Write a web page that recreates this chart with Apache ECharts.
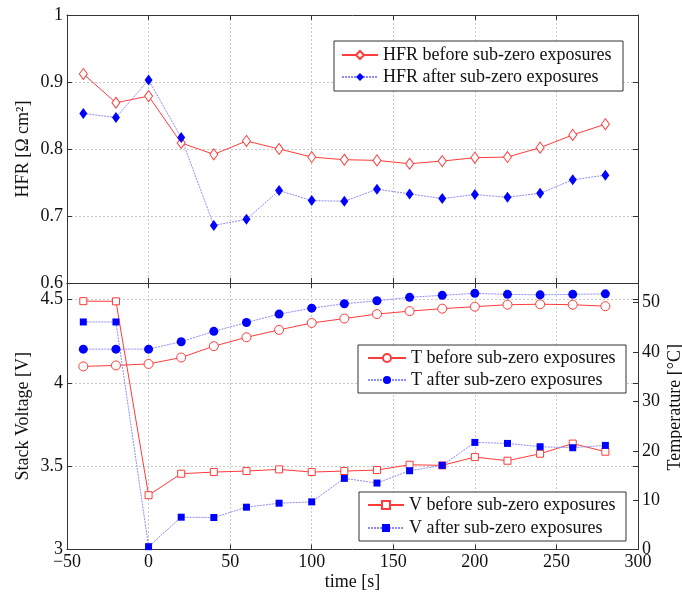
<!DOCTYPE html>
<html>
<head>
<meta charset="utf-8">
<script src="https://cdn.jsdelivr.net/npm/echarts@6/dist/echarts.min.js"></script>
<style>
html,body{margin:0;padding:0;background:#fff;}
#chart{width:682px;height:594px;}
</style>
</head>
<body>
<div id="chart"></div>
<script>
// ---- data ----
var timeS = [-40, -20, 0, 20, 40, 60, 80, 100, 120, 140, 160, 180, 200, 220, 240, 260, 280];
var hfrBefore = [0.912, 0.869, 0.879, 0.809, 0.792, 0.812, 0.800, 0.788, 0.784, 0.783, 0.778, 0.782, 0.787, 0.788, 0.802, 0.821, 0.837];
var hfrAfter  = [0.853, 0.847, 0.903, 0.817, 0.686, 0.695, 0.738, 0.723, 0.722, 0.740, 0.733, 0.726, 0.732, 0.728, 0.734, 0.754, 0.761];
var tBefore = [37.1, 37.3, 37.6, 38.9, 41.2, 43.0, 44.5, 45.9, 46.8, 47.7, 48.3, 48.8, 49.2, 49.6, 49.7, 49.6, 49.3];
var tAfter  = [40.6, 40.6, 40.6, 42.1, 44.2, 46.0, 47.7, 48.9, 49.8, 50.4, 51.1, 51.5, 51.9, 51.7, 51.6, 51.7, 51.8];
var vBefore = [4.491, 4.490, 3.326, 3.455, 3.465, 3.471, 3.481, 3.465, 3.471, 3.477, 3.509, 3.505, 3.555, 3.533, 3.575, 3.636, 3.587];
var vAfter  = [4.366, 4.366, 3.017, 3.194, 3.192, 3.254, 3.278, 3.286, 3.427, 3.399, 3.473, 3.505, 3.643, 3.637, 3.617, 3.611, 3.625];
var nameHfrBefore = 'HFR before sub-zero exposures';
var nameHfrAfter = 'HFR after sub-zero exposures';
var nameTBefore = 'T before sub-zero exposures';
var nameTAfter = 'T after sub-zero exposures';
var nameVBefore = 'V before sub-zero exposures';
var nameVAfter = 'V after sub-zero exposures';

function pairs(ys) { return timeS.map(function (t, i) { return [t, ys[i]]; }); }

var FONT = 'Liberation Serif';
var RED = '#ff3b3b';
var BLUE = '#0000ff';
var BLUE_LINE = '#8c8cff';
var FRAME = '#333';
var GRID = { color: '#c8c8c8', type: [2, 2], width: 1 };
var FS = 18;

var chart = echarts.init(document.getElementById('chart'), null, { renderer: 'canvas' });

function fmt(v) { return String(v).replace('-', '\u2212'); }

function xAx(grid, pos, labels, extra) {
  var a = {
    type: 'value', gridIndex: grid, position: pos, min: -50, max: 300, interval: 50,
    nameMoveOverlap: false,
    axisLine: { show: true, onZero: false, lineStyle: { color: FRAME, width: 1 } },
    axisTick: { show: true, inside: true, length: 5, lineStyle: { color: FRAME } },
    axisLabel: { show: labels, color: '#111', fontFamily: FONT, fontSize: FS, margin: 4, formatter: fmt },
    splitLine: { show: pos === 'bottom', showMinLine: false, showMaxLine: false, lineStyle: GRID }
  };
  for (var k in extra) a[k] = extra[k];
  return a;
}
function yAx(grid, pos, min, max, interval, labels, split, extra) {
  var a = {
    type: 'value', gridIndex: grid, position: pos, min: min, max: max, interval: interval,
    nameMoveOverlap: false,
    axisLine: { show: true, onZero: false, lineStyle: { color: FRAME, width: 1 } },
    axisTick: { show: true, inside: true, length: 5, lineStyle: { color: FRAME } },
    axisLabel: { show: labels, color: '#111', fontFamily: FONT, fontSize: FS, margin: 4, showMaxLabel: extra && extra.hideMax ? false : true },
    splitLine: { show: split, showMinLine: false, showMaxLine: false, lineStyle: GRID }
  };
  for (var k in extra) if (k !== 'hideMax') a[k] = extra[k];
  return a;
}

var nameStyle = { color: '#111', fontFamily: FONT, fontSize: FS };

function legend(left, top, pad, iw, tw, gap, names) {
  return {
    orient: 'vertical', left: left, top: top, padding: pad,
    itemWidth: iw, itemHeight: 10, itemGap: gap,
    backgroundColor: '#fff', borderColor: FRAME, borderWidth: 1, borderRadius: 0,
    textStyle: { color: '#111', fontFamily: FONT, fontSize: FS, lineHeight: 20, width: tw },
    data: names, selectedMode: false
  };
}

var option = {
  animation: false,
  backgroundColor: '#fff',
  grid: [
    { left: 67, right: 44, top: 15, height: 268, outerBoundsMode: 'none', containLabel: false },
    { left: 67, right: 44, top: 283, height: 266.5, outerBoundsMode: 'none', containLabel: false }
  ],
  xAxis: [
    xAx(0, 'bottom', false, {}),
    xAx(0, 'top', false, {}),
    xAx(1, 'bottom', true, { name: 'time [s]', nameLocation: 'middle', nameGap: 24, nameTextStyle: nameStyle }),
    xAx(1, 'top', false, {})
  ],
  yAxis: [
    yAx(0, 'left', 0.6, 1, 0.1, true, true, { name: 'HFR [Ω cm²]', nameLocation: 'middle', nameGap: 35, nameRotate: 90, nameTextStyle: nameStyle }),
    yAx(0, 'right', 0.6, 1, 0.1, false, false, {}),
    yAx(1, 'left', 3, 4.6, 0.5, true, true, { hideMax: true, name: 'Stack Voltage [V]', nameLocation: 'middle', nameGap: 35, nameRotate: 90, nameTextStyle: nameStyle }),
    yAx(1, 'right', 0, 54, 10, true, false, { hideMax: true, name: 'Temperature [°C]', nameLocation: 'middle', nameGap: 28, nameRotate: 90,
      nameTextStyle: { color: '#111', fontFamily: FONT, fontSize: FS, padding: [0, 0, 0, 18] } }),
    yAx(1, 'right', 3, 4.6, 0.5, false, false, { offset: 0 })
  ],
  legend: [
    legend(334, 41, [4, 8, 4, 7], 36, 232, 2, [nameHfrBefore, nameHfrAfter]),
    legend(358, 345, [3, 7, 3, 9], 38, 208, 2, [nameTBefore, nameTAfter]),
    legend(359, 492, [3, 7, 3, 8], 36, 210, 3, [nameVBefore, nameVAfter])
  ],
  series: [
    { name: nameHfrBefore, type: 'line', xAxisIndex: 0, yAxisIndex: 0, data: pairs(hfrBefore),
      symbol: 'diamond', symbolSize: [8, 11], showAllSymbol: true,
      lineStyle: { color: RED, width: 1 }, itemStyle: { color: '#fff', borderColor: RED, borderWidth: 1 } },
    { name: nameHfrAfter, type: 'line', xAxisIndex: 0, yAxisIndex: 0, data: pairs(hfrAfter),
      symbol: 'diamond', symbolSize: [8, 11], showAllSymbol: true,
      lineStyle: { color: BLUE_LINE, width: 1, type: [2, 1] }, itemStyle: { color: BLUE, borderColor: BLUE, borderWidth: 0 } },
    { name: nameTBefore, type: 'line', xAxisIndex: 2, yAxisIndex: 3, data: pairs(tBefore),
      symbol: 'circle', symbolSize: 9, showAllSymbol: true,
      lineStyle: { color: RED, width: 1 }, itemStyle: { color: '#fff', borderColor: RED, borderWidth: 1 } },
    { name: nameTAfter, type: 'line', xAxisIndex: 2, yAxisIndex: 3, data: pairs(tAfter),
      symbol: 'circle', symbolSize: 9, showAllSymbol: true,
      lineStyle: { color: BLUE_LINE, width: 1, type: [2, 1] }, itemStyle: { color: BLUE, borderColor: BLUE, borderWidth: 0 } },
    { name: nameVBefore, type: 'line', xAxisIndex: 2, yAxisIndex: 2, data: pairs(vBefore),
      symbol: 'rect', symbolSize: 7, showAllSymbol: true,
      lineStyle: { color: RED, width: 1 }, itemStyle: { color: '#fff', borderColor: RED, borderWidth: 1 } },
    { name: nameVAfter, type: 'line', xAxisIndex: 2, yAxisIndex: 2, data: pairs(vAfter),
      symbol: 'rect', symbolSize: 7, showAllSymbol: true,
      lineStyle: { color: BLUE_LINE, width: 1, type: [2, 1] }, itemStyle: { color: BLUE, borderColor: BLUE, borderWidth: 0 } }
  ]
};
chart.setOption(option);
</script>
</body>
</html>
